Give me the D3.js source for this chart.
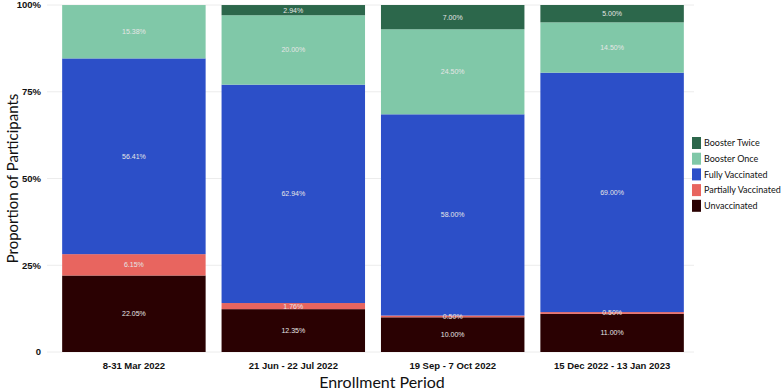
<!DOCTYPE html>
<html>
<head>
<meta charset="utf-8">
<script src="https://cdn.jsdelivr.net/npm/d3@7"></script>
<style>
	body { margin: 0; background: white; }
	svg { display: block; }
</style>
</head>
<body>
<script>
// enrollment periods on the x axis
var periods = [
	'8-31 Mar 2022',
	'21 Jun - 22 Jul 2022',
	'19 Sep - 7 Oct 2022',
	'15 Dec 2022 - 13 Jan 2023'
]

// stack order, bottom to top
var statuses = [
	'Unvaccinated',
	'Partially Vaccinated',
	'Fully Vaccinated',
	'Booster Once',
	'Booster Twice'
]

// percentages per status, one value per period
var unvaccinated = [22.05, 12.35, 10.00, 11.00]
var partially = [6.15, 1.76, 0.50, 0.50]
var fully = [56.41, 62.94, 58.00, 69.00]
var boosterOnce = [15.38, 20.00, 24.50, 14.50]
var boosterTwice = [0, 2.94, 7.00, 5.00]

var yTicks = [0, 25, 50, 75, 100]
var yTickLabels = ['0', '25%', '50%', '75%', '100%']

var color = d3.scaleOrdinal()
	.domain(statuses)
	.range([
		'#2a0102',
		'#e8655f',
		'#2c4fc8',
		'#80c8a8',
		'#2c674b'
	])

var width = 784,
	height = 391

var svg = d3.select('body').append('svg')
	.attr('width', width)
	.attr('height', height)

var x = d3.scaleBand()
	.domain(periods)
	.range([51, 695])
	.paddingInner(0.1)
	.paddingOuter(0.07)

var y = d3.scaleLinear()
	.domain([0, 100])
	.range([352, 5])

// build the table for the stack
var series = [unvaccinated, partially, fully, boosterOnce, boosterTwice]
var table = periods.map(function (p, i) {
	var row = { period: p }
	statuses.forEach(function (s, j) { row[s] = series[j][i] })
	return row
})

var stacked = d3.stack().keys(statuses)(table)

// gridlines
svg.append('g')
	.selectAll('line')
	.data(yTicks)
	.enter()
	.append('line')
		.attr('x1', 47)
		.attr('x2', 694)
		.attr('y1', d => y(d))
		.attr('y2', d => y(d))
		.attr('stroke', '#ececec')
		.attr('stroke-width', 1)

// y tick labels
svg.append('g')
	.selectAll('text')
	.data(yTicks)
	.enter()
	.append('text')
		.attr('x', 41)
		.attr('y', d => y(d))
		.attr('dy', '0.35em')
		.attr('text-anchor', 'end')
		.style('font-family', 'Liberation Sans, Arial, sans-serif')
		.style('font-weight', 'bold')
		.style('font-size', '9.5px')
		.attr('fill', '#111')
		.text((d, i) => yTickLabels[i])

// bars
var layers = svg.append('g')
	.selectAll('g')
	.data(stacked)
	.enter()
	.append('g')
		.attr('fill', d => color(d.key))

layers.selectAll('rect')
	.data(d => d)
	.enter()
	.append('rect')
		.attr('x', d => x(d.data.period))
		.attr('width', x.bandwidth())
		.attr('y', d => y(d[1]))
		.attr('height', d => y(d[0]) - y(d[1]))

// value labels inside segments
stacked.forEach(function (layer) {
	svg.append('g')
		.selectAll('text')
		.data(layer.filter(d => d[1] - d[0] > 0))
		.enter()
		.append('text')
			.attr('x', d => x(d.data.period) + x.bandwidth() / 2)
			.attr('y', d => y((d[0] + d[1]) / 2))
			.attr('dy', '0.35em')
			.attr('text-anchor', 'middle')
			.style('font-family', 'Liberation Sans, Arial, sans-serif')
			.style('font-size', '7px')
			.attr('fill', '#e6e6e6')
			.text(d => (d[1] - d[0]).toFixed(2) + '%')
})

// x tick labels
svg.append('g')
	.selectAll('text')
	.data(periods)
	.enter()
	.append('text')
		.attr('x', d => x(d) + x.bandwidth() / 2)
		.attr('y', 366)
		.attr('dy', '0.35em')
		.attr('text-anchor', 'middle')
		.style('font-family', 'Liberation Sans, Arial, sans-serif')
		.style('font-weight', 'bold')
		.style('font-size', '9.5px')
		.attr('fill', '#111')
		.text(d => d)

// axis titles
svg.append('text')
	.attr('x', 382)
	.attr('y', 382)
	.attr('dy', '0.35em')
	.attr('text-anchor', 'middle')
	.style('font-family', 'Lato, sans-serif')
	.style('font-size', '16px')
	.attr('fill', '#111')
	.text('Enrollment Period')

svg.append('text')
	.attr('transform', 'translate(13,' + y(50) + ') rotate(-90)')
	.attr('dy', '0.35em')
	.attr('text-anchor', 'middle')
	.style('font-family', 'Lato, sans-serif')
	.style('font-size', '15px')
	.attr('fill', '#111')
	.text('Proportion of Participants')

// LEGEND
var legendOrder = statuses.slice().reverse()

var legend = svg.append('g')
	.selectAll('g')
	.data(legendOrder)
	.enter()
	.append('g')
		.attr('transform', (d, i) => 'translate(692,' + (137 + i * 15.7) + ')')

legend.append('rect')
	.attr('width', 9)
	.attr('height', 12)
	.attr('fill', d => color(d))

legend.append('text')
	.attr('x', 12)
	.attr('y', 6)
	.attr('dy', '0.35em')
	.style('font-family', 'Lato, sans-serif')
	.style('font-size', '9px')
	.attr('fill', '#111')
	.text(d => d)
</script>
</body>
</html>
